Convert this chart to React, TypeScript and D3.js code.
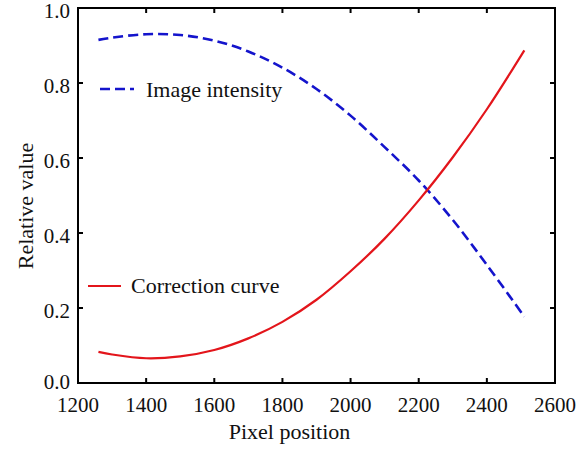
import React from 'react';
import * as d3 from 'd3';

const pixelPos = [1260, 1300, 1400, 1500, 1600, 1700, 1800, 1900, 2000, 2100, 2200, 2300, 2400, 2510];
const imageIntensity = [0.915, 0.921, 0.93, 0.928, 0.913, 0.884, 0.841, 0.784, 0.713, 0.629, 0.54, 0.435, 0.315, 0.177];
const correctionCurve = [0.083, 0.076, 0.066, 0.071, 0.088, 0.119, 0.163, 0.222, 0.298, 0.385, 0.487, 0.602, 0.73, 0.887];
const xTicks = [1200, 1400, 1600, 1800, 2000, 2200, 2400, 2600];
const yTicks = [0, 0.2, 0.4, 0.6, 0.8, 1.0];

const W = 586;
const H = 450;
const left = 78, right = 555, top = 8, bottom = 383;
const font = '"Liberation Serif", "Times New Roman", serif';

const App: React.FC = () => {
  const x = d3.scaleLinear().domain([1200, 2600]).range([left, right]);
  const y = d3.scaleLinear().domain([0, 1]).range([bottom, top]);

  const line = d3
    .line<number>()
    .x((_, i) => x(pixelPos[i]))
    .y((d) => y(d))
    .curve(d3.curveCatmullRom);

  const tl = 5;

  return (
    <svg width={W} height={H} style={{ position: 'absolute', left: 0, top: 0, background: '#fff' }}>
      <rect x={0} y={0} width={W} height={H} fill="#fff" />
      {/* ticks */}
      {xTicks.map((t) => (
        <g key={'x' + t}>
          <line x1={x(t)} x2={x(t)} y1={bottom} y2={bottom - tl} stroke="#000" strokeWidth={2} />
          <line x1={x(t)} x2={x(t)} y1={top} y2={top + tl} stroke="#000" strokeWidth={2} />
          <text x={x(t)} y={412} textAnchor="middle" fontFamily={font} fontSize={21} fill="#111">
            {t}
          </text>
        </g>
      ))}
      {yTicks.map((t) => (
        <g key={'y' + t}>
          <line x1={left} x2={left + tl} y1={y(t)} y2={y(t)} stroke="#000" strokeWidth={2} />
          <line x1={right} x2={right - tl} y1={y(t)} y2={y(t)} stroke="#000" strokeWidth={2} />
          <text x={70} y={y(t) + (t === 0 ? 6 : 10)} textAnchor="end" fontFamily={font} fontSize={21} fill="#111">
            {t.toFixed(1)}
          </text>
        </g>
      ))}
      <rect x={left} y={top} width={right - left} height={bottom - top} fill="none" stroke="#000" strokeWidth={2} />

      <path d={line(imageIntensity) || ''} fill="none" stroke="#1414cc" strokeWidth={2.6} strokeDasharray="10,5" />
      <path d={line(correctionCurve) || ''} fill="none" stroke="#e3151b" strokeWidth={2.2} />

      {/* legends */}
      <line x1={100} x2={134} y1={89} y2={89} stroke="#1414cc" strokeWidth={2.6} strokeDasharray="10,5" />
      <text x={146} y={97} fontFamily={font} fontSize={22} fill="#111">Image intensity</text>
      <line x1={88} x2={121} y1={286} y2={286} stroke="#e3151b" strokeWidth={2.2} />
      <text x={131} y={293} fontFamily={font} fontSize={22} fill="#111">Correction curve</text>

      {/* axis titles */}
      <text x={(left + right) / 2 - 27} y={439} textAnchor="middle" fontFamily={font} fontSize={22} fill="#111">
        Pixel position
      </text>
      <text
        transform={`translate(33, 206) rotate(-90)`}
        textAnchor="middle"
        fontFamily={font}
        fontSize={22}
        fill="#111"
      >
        Relative value
      </text>
    </svg>
  );
};

export default App;
